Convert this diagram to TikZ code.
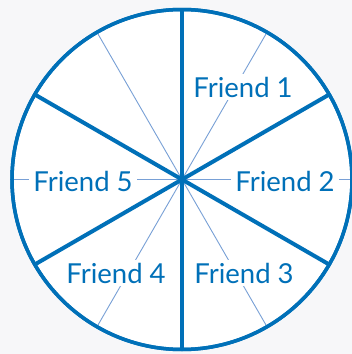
\documentclass[tikz,border=0pt]{standalone}
\usepackage{fontspec}
\setmainfont{Lato}
\usetikzlibrary{positioning}
\definecolor{pieblue}{RGB}{0,112,184}
\definecolor{spokeblue}{RGB}{120,160,214}
\definecolor{pagegray}{RGB}{247,247,249}
\tikzset{
  Rim/.style={draw=pieblue, line width=3.5pt, fill=white, circle,
              minimum size=340pt, inner sep=0pt, outer sep=0pt},
  Cut/.style={draw=pieblue, line width=4pt},
  Spoke/.style={draw=spokeblue, line width=0.9pt},
  Flabel/.style={fill=white, text=pieblue, font=\fontsize{27.5}{29}\selectfont,
                 inner xsep=4pt, inner ysep=3pt}
}

\begin{document}
\begin{tikzpicture}[x=1pt,y=1pt]
  \fill[pagegray] (-182,-174.5) rectangle (170,179.5);
  \useasboundingbox (-182,-174.5) rectangle (170,179.5);

  \coordinate (c) at (0,0);
  \node[Rim] (pie) at (c) {};

  % thin spokes
  \foreach \a in {0,60,...,300}
    \draw[Spoke] (c) -- (pie.\a);

  \node[Flabel] (f1) at (61,92.5) {Friend 1};
  \node[Flabel] (f2) at (103,-1.5) {Friend 2};
  \node[Flabel] (f3) at (62,-93.5) {Friend 3};
  \node[Flabel] (f4) at (-66,-93.5) {Friend 4};
  \node[Flabel] (f5) at (-99,-1.5) {Friend 5};

  % thick cuts
  \foreach \a in {30,90,...,330}
    \draw[Cut] (c) -- (pie.\a);
  \draw[draw=pieblue, line width=3.5pt] (pie.center) circle (170);
\end{tikzpicture}
\end{document}
